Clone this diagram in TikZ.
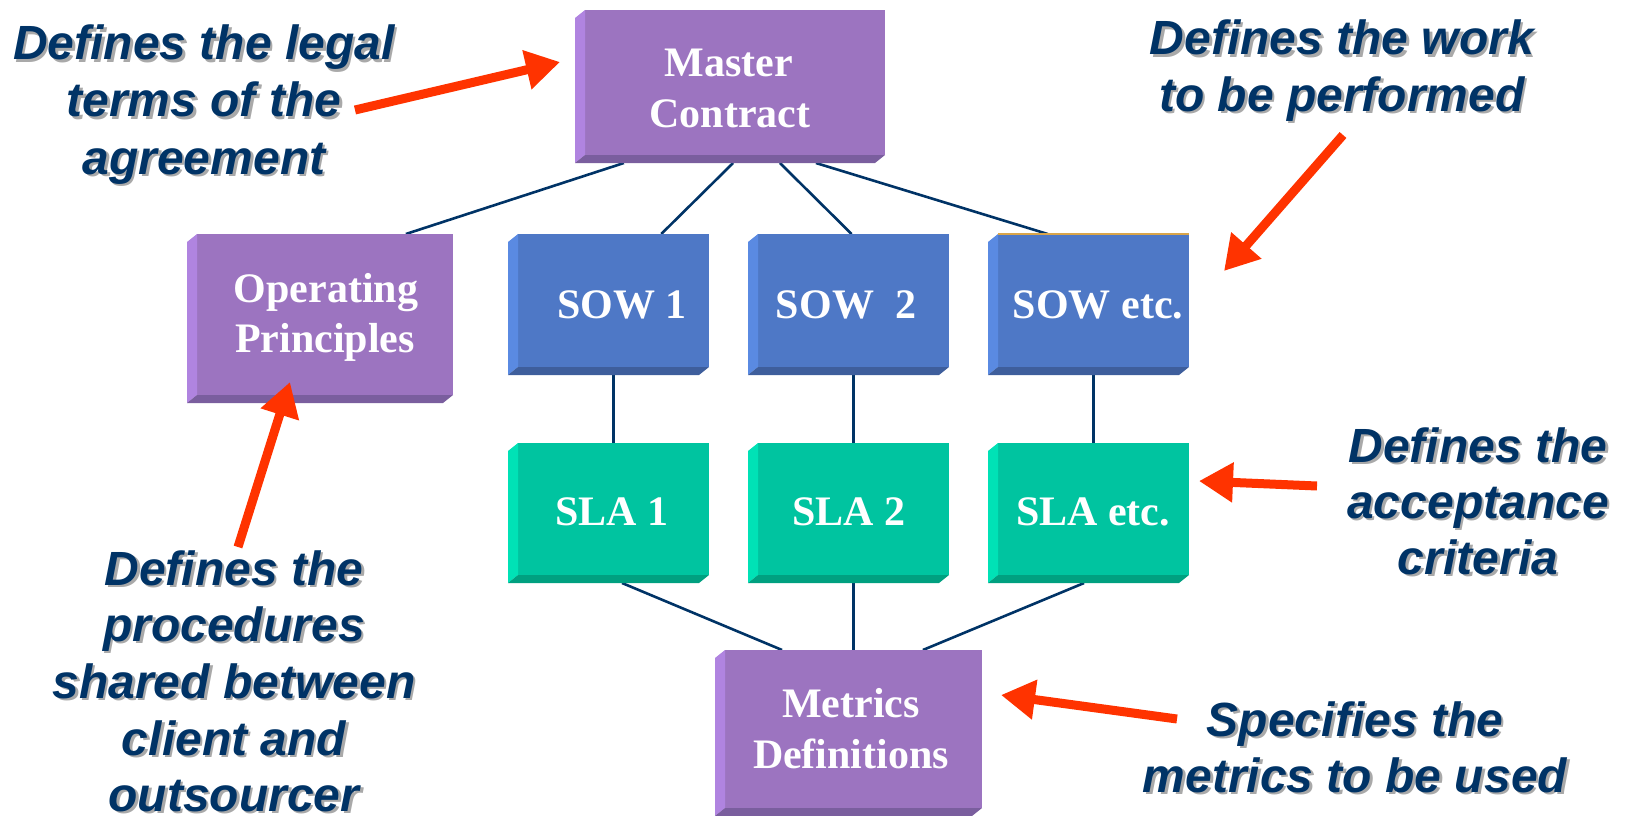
\documentclass[tikz,border=0pt]{standalone}
\usepackage{fontspec}
\usetikzlibrary{calc,arrows.meta}
\newfontfamily\notefont{Liberation Sans}
\newfontfamily\boxfont{Liberation Serif}

\definecolor{navy}{HTML}{003366}
\definecolor{shadowgray}{HTML}{A9A9A9}
\definecolor{redarrow}{HTML}{FF3300}
\definecolor{purpleface}{HTML}{9C74C0}
\definecolor{purplelight}{HTML}{B084E0}
\definecolor{purpledark}{HTML}{7A5E9E}
\definecolor{blueface}{HTML}{4E78C6}
\definecolor{bluelight}{HTML}{5A8AE2}
\definecolor{bluedark}{HTML}{3E5E9C}
\definecolor{greenface}{HTML}{00C4A0}
\definecolor{greenlight}{HTML}{00E2B6}
\definecolor{greendark}{HTML}{00A080}
\definecolor{edgeorange}{HTML}{D9A54A}

\pgfdeclarelayer{bg}
\pgfsetlayers{bg,main}

\tikzset{
  notetext/.style={anchor=base, inner sep=0pt, text=navy,
    font=\notefont\bfseries\itshape\fontsize{48}{57}\selectfont},
  boxtext/.style={anchor=base, inner sep=0pt, text=white,
    font=\boxfont\bfseries\fontsize{42}{51}\selectfont},
  link/.style={draw=navy, line width=2.6pt},
  pointer/.style={draw=redarrow, line width=9pt,
    -{Triangle[length=34pt,width=38pt]}},
}

% a box with a bevelled lower-left edge: name, x1, y1, x2, y2, face, light, dark
% (#1-bl) and (#1-br) mark the outer corners of the bevel's lower edge
\newcommand\bevelbox[8]{%
  \node[inner sep=0pt, outer sep=0pt, fill=#6, anchor=north west,
        minimum width={#4-#2}, minimum height={#5-#3}] (#1) at (#2,#3) {};
  \coordinate (#1-bl) at ([shift={(-10,8)}]#1.south west);
  \coordinate (#1-br) at ([shift={(-10,8)}]#1.south east);
  \fill[#7] (#1.north west) -- ++(-10,8) -- (#1-bl) -- (#1.south west) -- cycle;
  \fill[#8] (#1.south west) -- (#1-bl) -- (#1-br) -- (#1.south east) -- cycle;
}

% one line of annotation text with a soft grey drop shadow
\newcommand\noteline[3]{%
  \node[notetext, text=shadowgray] (#1-s) at ([shift={(2.5,2.5)}]#2) {#3};
  \node[notetext] (#1) at (#2) {#3};
}

\begin{document}
\begin{tikzpicture}[x=1pt, y=-1pt]
\useasboundingbox (0,0) rectangle (1626,816);

% boxes
\bevelbox{mc}{585}{10}{885}{155}{purpleface}{purplelight}{purpledark}
\bevelbox{op}{197}{234}{453}{395}{purpleface}{purplelight}{purpledark}
\bevelbox{sow1}{518}{234}{709}{367}{blueface}{bluelight}{bluedark}
\bevelbox{sow2}{758}{234}{949}{367}{blueface}{bluelight}{bluedark}
\bevelbox{sowe}{998}{234}{1189}{367}{blueface}{bluelight}{bluedark}
\bevelbox{sla1}{518}{443}{709}{575}{greenface}{greenlight}{greendark}
\bevelbox{sla2}{758}{443}{949}{575}{greenface}{greenlight}{greendark}
\bevelbox{slae}{998}{443}{1189}{575}{greenface}{greenlight}{greendark}
\bevelbox{md}{725}{650}{982}{808}{purpleface}{purplelight}{purpledark}
\draw[edgeorange, line width=2pt] (sowe.north west) -- (sowe.north east);

% box labels
\node[boxtext] (mc-l1) at (729,77) {Master};
\node[boxtext] (mc-l2) at (730,128) {Contract};
\node[boxtext] (op-l1) at (326,302) {Operating};
\node[boxtext] (op-l2) at (325,352) {Principles};
\node[boxtext] (sow1-l) at (622,318) {SOW 1};
\node[boxtext] (sow2-l) at (846,318) {SOW\ \ 2};
\node[boxtext] (sowe-l) at (1098,318) {SOW etc.};
\node[boxtext] (sla1-l) at (612,525) {SLA 1};
\node[boxtext] (sla2-l) at (849,525) {SLA 2};
\node[boxtext] (slae-l) at (1093,525) {SLA etc.};
\node[boxtext] (md-l1) at (851,717) {Metrics};
\node[boxtext] (md-l2) at (851,768) {Definitions};

% tree connectors, behind the boxes
\begin{pgfonlayer}{bg}
\draw[link] ($(mc-bl)!0.163!(mc-br)$) -- ($(op.north west)!0.816!(op.north east)$);
\draw[link] ($(mc-bl)!0.527!(mc-br)$) -- ($(sow1.north west)!0.75!(sow1.north east)$);
\draw[link] ($(mc-bl)!0.683!(mc-br)$) -- ($(sow2.north west)!0.49!(sow2.north east)$);
\draw[link] ($(mc-bl)!0.803!(mc-br)$) -- ($(sowe.north west)!0.26!(sowe.north east)$);
\draw[link] (sow1.south) -- (sla1.north);
\draw[link] (sow2.south) -- (sla2.north);
\draw[link] (sowe.south) -- (slae.north);
\draw[link] ($(sla1-bl)!0.597!(sla1-br)$) -- ($(md.north west)!0.222!(md.north east)$);
\draw[link] (sla2.south) -- (md.north);
\draw[link] ($(slae-bl)!0.503!(slae-br)$) -- ($(md.north west)!0.77!(md.north east)$);
\end{pgfonlayer}

% annotations
\noteline{n1a}{204,60}{Defines the legal}
\noteline{n1b}{204,117}{terms of the}
\noteline{n1c}{204,174}{agreement}

\noteline{n2a}{234,585}{Defines the}
\noteline{n2b}{234,641}{procedures}
\noteline{n2c}{234,698}{shared between}
\noteline{n2d}{234,755}{client and}
\noteline{n2e}{234,811}{outsourcer}

\noteline{n3a}{1342,55}{Defines the work}
\noteline{n3b}{1342,111}{to be performed}

\noteline{n4a}{1478,462}{Defines the}
\noteline{n4b}{1478,518}{acceptance}
\noteline{n4c}{1478,574}{criteria}

\noteline{n5a}{1355,736}{Specifies the}
\noteline{n5b}{1355,792}{metrics to be used}

% pointer arrows
\coordinate (p1s) at (355,110);  \coordinate (p1e) at (560,62);
\coordinate (p2s) at (238,547);  \coordinate (p2e) at (290,382);
\coordinate (p3s) at (1343,135); \coordinate (p3e) at (1224,271);
\coordinate (p4s) at (1317,486); \coordinate (p4e) at (1199,481);
\coordinate (p5s) at (1177,719); \coordinate (p5e) at (1001,695);
\draw[pointer] (p1s) -- (p1e);
\draw[pointer] (p2s) -- (p2e);
\draw[pointer] (p3s) -- (p3e);
\draw[pointer] (p4s) -- (p4e);
\draw[pointer] (p5s) -- (p5e);
\end{tikzpicture}
\end{document}
